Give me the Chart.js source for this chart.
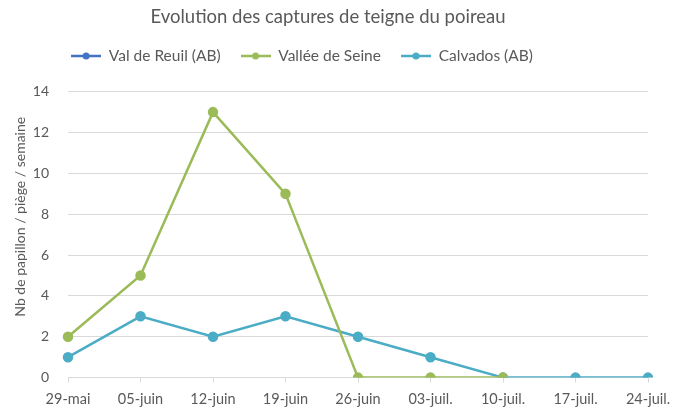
<!DOCTYPE html>
<html>
<head>
<meta charset="utf-8">
<script src="https://cdn.jsdelivr.net/npm/chart.js@4/dist/chart.umd.min.js"></script>
<style>
  html, body { margin: 0; padding: 0; background: #fff; }
  #wrap { width: 682px; height: 410px; }
</style>
</head>
<body>
<div id="wrap"><canvas id="captures"></canvas></div>
<script>
// Evolution des captures de teigne du poireau
const labels = ["29-mai", "05-juin", "12-juin", "19-juin", "26-juin", "03-juil.", "10-juil.", "17-juil.", "24-juil."];

const valDeReuil = [null, null, null, null, null, null, null, null, null];
const valleeDeSeine = [2, 5, 13, 9, 0, 0, 0, null, null];
const calvados = [1, 3, 2, 3, 2, 1, 0, 0, 0];

const yTicks = [0, 2, 4, 6, 8, 10, 12, 14];

const FONT = "Lato, 'Open Sans', sans-serif";
const GREY = "#595959";

// small legend marker: line with a dot in the middle
function marker(color) {
    const c = document.createElement("canvas");
    c.width = 30; c.height = 10;
    const ctx = c.getContext("2d");
    ctx.strokeStyle = color;
    ctx.lineWidth = 2.5;
    ctx.beginPath(); ctx.moveTo(0, 5); ctx.lineTo(30, 5); ctx.stroke();
    ctx.fillStyle = color;
    ctx.beginPath(); ctx.arc(15, 5, 3.5, 0, Math.PI * 2); ctx.fill();
    return c;
}

const series = (label, color, values) => ({
    label: label,
    data: values,
    borderColor: color,
    backgroundColor: color,
    borderWidth: 2.5,
    pointRadius: 4,
    pointHoverRadius: 4,
    tension: 0,
    _marker: marker(color)
});

const data = {
    labels: labels,
    datasets: [
        series("Val de Reuil (AB)", "#4472c4", valDeReuil),
        series("Vallée de Seine", "#9bbb59", valleeDeSeine),
        series("Calvados (AB)", "#4bacc6", calvados)
    ]
};

// legend sits a bit left of centre in the original, with more room below it
const legendTweak = {
    id: "legendTweak",
    beforeLayout(chart) {
        const lg = chart.legend;
        if (lg && !lg._tweaked) {
            const fit = lg.fit.bind(lg);
            lg.fit = function () { fit(); this.height += 18; };
            lg._tweaked = true;
        }
    },
    afterLayout(chart) {
        chart.legend.left -= 26;
        chart.legend.right -= 26;
    }
};

const config = {
    type: "line",
    data,
    plugins: [legendTweak],
    options: {
        responsive: true,
        maintainAspectRatio: false,
        animation: false,
        layout: { padding: { left: 8, right: 34, top: 0, bottom: -6 } },
        plugins: {
            title: {
                display: true,
                text: "Evolution des captures de teigne du poireau",
                color: GREY,
                font: { family: FONT, size: 18.5, weight: "normal" },
                padding: { top: 6, bottom: 0 }
            },
            legend: {
                position: "top",
                labels: {
                    color: GREY,
                    font: { family: FONT, size: 15.5 },
                    usePointStyle: true,
                    pointStyleWidth: 30,
                    padding: 20,
                    generateLabels: (chart) => chart.data.datasets.map((ds, i) => ({
                        text: ds.label,
                        fontColor: GREY,
                        pointStyle: ds._marker,
                        datasetIndex: i,
                        lineWidth: 0,
                        hidden: false
                    }))
                }
            },
            tooltip: { enabled: false }
        },
        scales: {
            x: {
                offset: false,
                grid: { display: true, drawOnChartArea: false, tickLength: 5, color: "#d9d9d9" },
                border: { color: "#d9d9d9" },
                ticks: { color: GREY, font: { family: FONT, size: 14.5 }, maxRotation: 0, padding: 8 }
            },
            y: {
                min: yTicks[0],
                max: yTicks[yTicks.length - 1],
                afterFit: (scale) => { scale.width = 60; },
                grid: { color: "#d9d9d9", drawTicks: false },
                border: { display: false },
                ticks: {
                    stepSize: yTicks[1] - yTicks[0],
                    color: GREY,
                    font: { family: FONT, size: 14 },
                    padding: 19
                },
                title: {
                    display: true,
                    text: "          Nb de papillon / piège / semaine",
                    color: GREY,
                    font: { family: FONT, size: 14 }
                }
            }
        }
    }
};

var chart = new Chart(document.getElementById("captures"), config);
</script>
</body>
</html>
